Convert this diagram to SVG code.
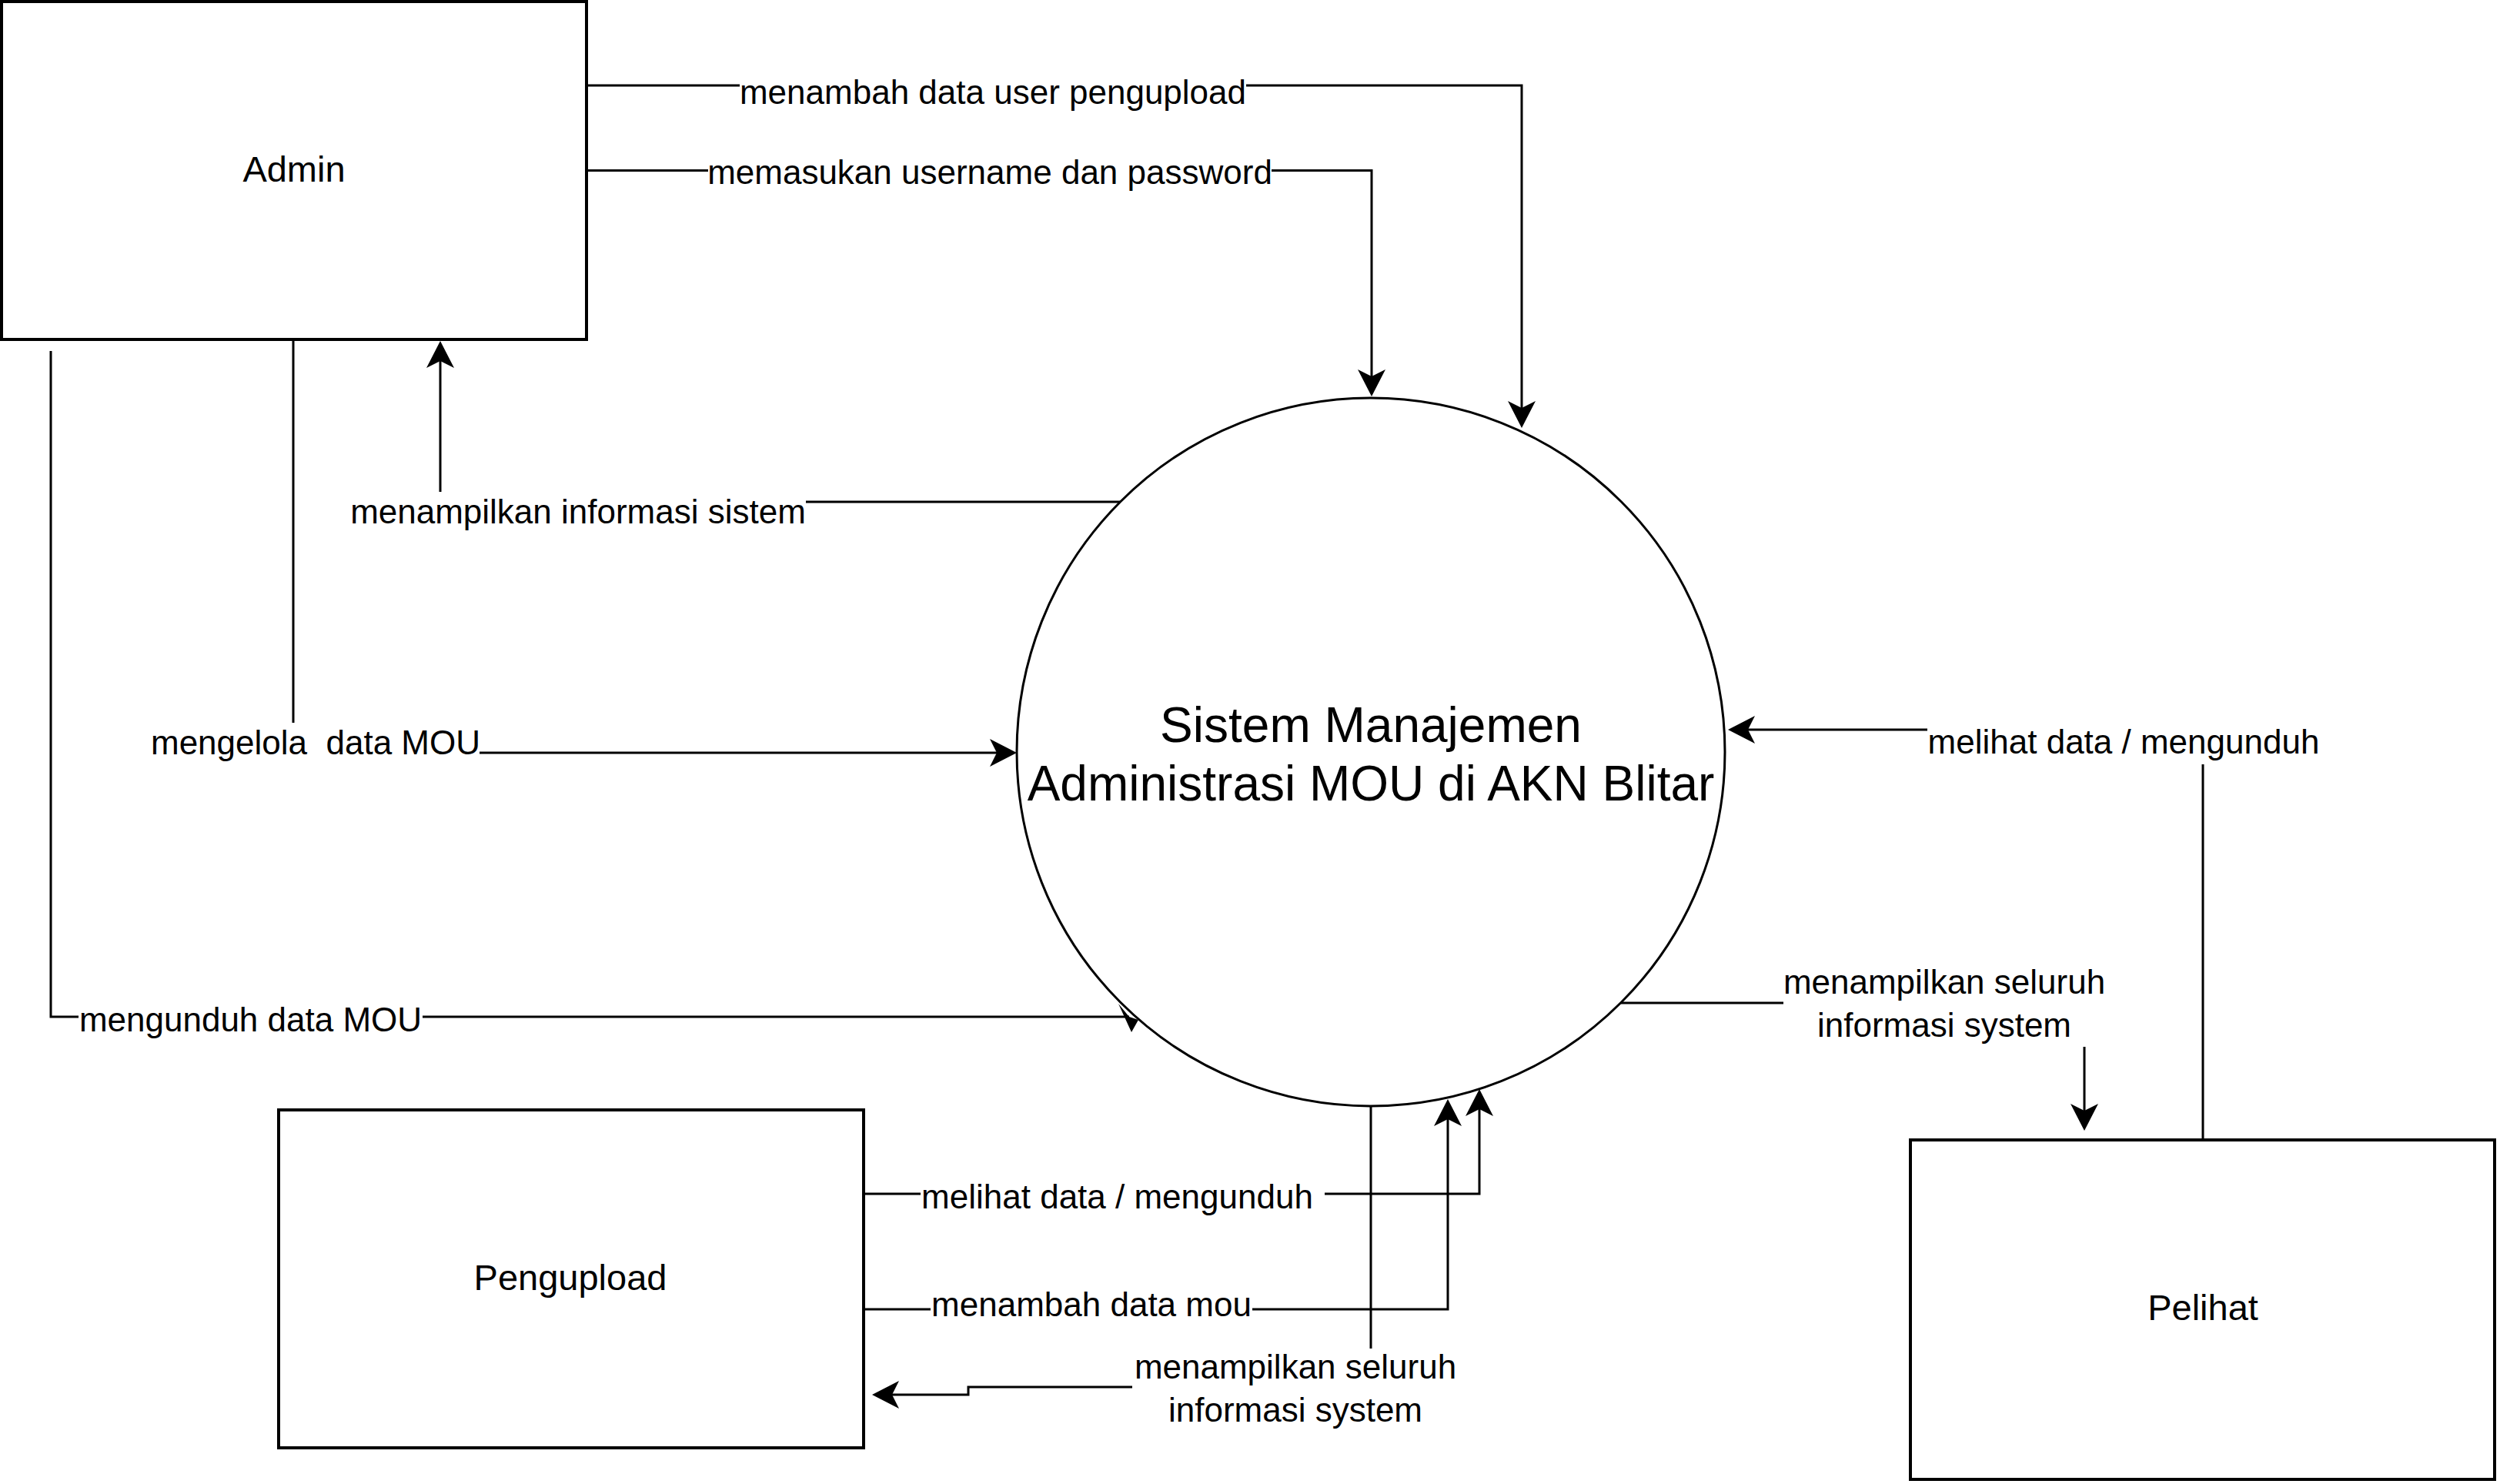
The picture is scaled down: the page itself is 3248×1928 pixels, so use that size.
<svg xmlns="http://www.w3.org/2000/svg" width="3248" height="1928" viewBox="0 0 3248 1928">
<style>
.box{fill:#fff;stroke:#000;stroke-width:4}
.proc{fill:#fff;stroke:#000;stroke-width:3}
.edge{fill:none;stroke:#000;stroke-width:3}
.lbl{font-family:"Liberation Sans",Arial,sans-serif;font-size:44px;fill:#000;text-anchor:middle;white-space:pre}
.node{font-family:"Liberation Sans",Arial,sans-serif;font-size:47px;fill:#000;text-anchor:middle}
.title{font-family:"Liberation Sans",Arial,sans-serif;font-size:64px;fill:#000;text-anchor:middle}
.bg{fill:#fff;stroke:none}
</style>
<defs>
<marker id="arr" markerUnits="userSpaceOnUse" markerWidth="60" markerHeight="60" viewBox="-20 -30 60 60" refX="0" refY="0" orient="auto" overflow="visible">
<path d="M22,0 L-13,-18 L-4,0 L-13,18 Z" fill="#000"/>
</marker>
</defs>
<rect width="3248" height="1928" fill="#fff"/>

<g id="connectors">
<path class="edge" d="M762,111 H1977 V534" marker-end="url(#arr)"/>
<path class="edge" d="M762,221.5 H1782 V493" marker-end="url(#arr)"/>
<path class="edge" d="M1456,652 H572 V465" marker-end="url(#arr)"/>
<path class="edge" d="M381,441 V978 H1299" marker-end="url(#arr)"/>
<path class="edge" d="M66,456 V1321 H1467"/>
<polygon points="1470,1341 1453,1304 1467,1321 1479,1325" fill="#000"/>
<path class="edge" d="M2862,1481 V948 H2267" marker-end="url(#arr)"/>
<path class="edge" d="M2106,1303 H2708 V1447" marker-end="url(#arr)"/>
<path class="edge" d="M1123,1551 H1922 V1437" marker-end="url(#arr)"/>
<path class="edge" d="M1123,1701 H1881 V1450" marker-end="url(#arr)"/>
<path class="edge" d="M1781,1437 V1802 H1258 V1812 H1155" marker-end="url(#arr)"/>

<rect class="bg" x="961" y="100" width="658" height="46"/>
<text class="lbl" x="1290" y="135">menambah data user pengupload</text>
<rect class="bg" x="920" y="205" width="732" height="46"/>
<text class="lbl" x="1286" y="239">memasukan username dan password</text>
<rect class="bg" x="455" y="639" width="592" height="53"/>
<text class="lbl" x="751" y="680">menampilkan informasi sistem</text>
<rect class="bg" x="196" y="939" width="427" height="53"/>
<text class="lbl" x="410" y="980">mengelola  data MOU</text>
<rect class="bg" x="102" y="1300" width="447" height="50"/>
<text class="lbl" x="325.5" y="1340">mengunduh data MOU</text>
<rect class="bg" x="2504" y="938" width="510" height="55"/>
<text class="lbl" x="2759" y="979">melihat data / mengunduh</text>
<rect class="bg" x="2317" y="1252" width="418" height="108"/>
<text class="lbl" x="2526" y="1291">menampilkan seluruh</text>
<text class="lbl" x="2526" y="1347">informasi system</text>
<rect class="bg" x="1196" y="1530" width="525" height="52"/>
<text class="lbl" x="1451.5" y="1570">melihat data / mengunduh</text>
<rect class="bg" x="1209" y="1680" width="418" height="42"/>
<text class="lbl" x="1418" y="1710">menambah data mou</text>
<rect class="bg" x="1471" y="1752" width="421" height="110"/>
<text class="lbl" x="1683" y="1791">menampilkan seluruh</text>
<text class="lbl" x="1683" y="1847">informasi system</text>
</g>

<g id="admin">
<rect class="box" x="2" y="2" width="760" height="439"/>
<text class="node" x="382" y="236">Admin</text>
</g>
<g id="sistem">
<circle class="proc" cx="1781" cy="977" r="460"/>
<text class="title" x="1781" y="964">Sistem Manajemen</text>
<text class="title" x="1781" y="1040">Administrasi MOU di AKN Blitar</text>
</g>
<g id="pengupload">
<rect class="box" x="362" y="1442" width="760" height="439"/>
<text class="node" x="741" y="1676">Pengupload</text>
</g>
<g id="pelihat">
<rect class="box" x="2482" y="1481" width="759" height="441"/>
<text class="node" x="2862" y="1715">Pelihat</text>
</g>
</svg>
